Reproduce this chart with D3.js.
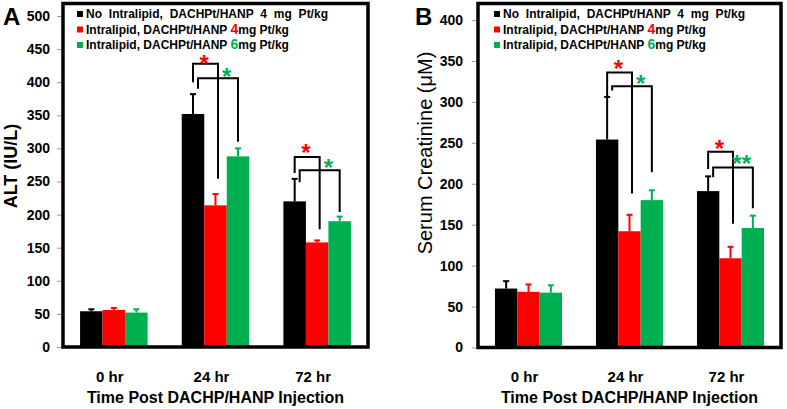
<!DOCTYPE html>
<html><head><meta charset="utf-8">
<script src="https://cdn.jsdelivr.net/npm/d3@7"></script>
<style>
body{margin:0;background:#fff}
svg{display:block;font-family:Arial,"Liberation Sans",sans-serif}
</style>
</head><body>
<svg id="c" width="787" height="409"></svg>
<script>
// ---------- data ----------
const groups = ["0 hr", "24 hr", "72 hr"];
const seriesColors = ["#000000", "#ff0000", "#00b050"];
const legendMain = ["No Intralipid, DACHPt/HANP 4 mg Pt/kg", "Intralipid, DACHPt/HANP ", "Intralipid, DACHPt/HANP "];
const legendDose = ["", "4", "6"];
const legendUnit = ["", "mg Pt/kg", "mg Pt/kg"];
const xTitle = "Time Post DACHP/HANP Injection";

// Panel A: ALT (IU/L)
const altTicks = [0, 50, 100, 150, 200, 250, 300, 350, 400, 450, 500];
const altNoIL   = [54, 352, 220];
const altNoILSD = [3, 30, 34];
const altIL4    = [56, 214, 158];
const altIL4SD  = [3, 17, 3];
const altIL6    = [52, 288, 190];
const altIL6SD  = [5, 12, 7];
// significance brackets: group, compared series, bracket top, leg ends, asterisk level
const altBrackets = [
  {group: 1, to: 1, top: 428, fromEnd: 400, toEnd: 254, star: 436, label: "*"},
  {group: 1, to: 2, top: 406, fromEnd: 390, toEnd: 310, star: 417, label: "*"},
  {group: 2, to: 1, top: 287, fromEnd: 263, toEnd: 178, star: 302, label: "*"},
  {group: 2, to: 2, top: 267, fromEnd: 249, toEnd: 204, star: 279, label: "*"}
];

// Panel B: Serum Creatinine (uM)
const creTicks = [0, 50, 100, 150, 200, 250, 300, 350, 400];
const creNoIL   = [72, 254, 191];
const creNoILSD = [9, 52, 18];
const creIL4    = [68, 142, 109];
const creIL4SD  = [9, 20, 14];
const creIL6    = [67, 180, 146];
const creIL6SD  = [9, 12, 15];
const creBrackets = [
  {group: 1, to: 1, top: 336, fromEnd: 306, toEnd: 188, star: 347, label: "*"},
  {group: 1, to: 2, top: 319, fromEnd: 314, toEnd: 214, star: 329, label: "*"},
  {group: 2, to: 1, top: 239, fromEnd: 218, toEnd: 151, star: 250, label: "*"},
  {group: 2, to: 2, top: 220, fromEnd: 208, toEnd: 170, star: 231, label: "**"}
];

// ---------- drawing ----------
const svg = d3.select("#c");
svg.append("rect").attr("width", 787).attr("height", 409).attr("fill", "#fff");

function panel(cfg) {
  const g = svg.append("g");
  const x = d3.scaleBand().domain(groups).range([cfg.x0, cfg.x1]).paddingInner(0.336).paddingOuter(0.168);
  const xs = d3.scaleBand().domain([0, 1, 2]).range([0, x.bandwidth()]);
  const y = d3.scaleLinear().domain([0, cfg.yMax]).range([cfg.yZero, cfg.yTopTick]);
  const cx = (gi, si) => x(groups[gi]) + xs(si) + xs.bandwidth() / 2;

  // y axis
  const ax = g.append("g").attr("transform", `translate(${cfg.x0},0)`)
    .call(d3.axisLeft(y).tickValues(cfg.ticks).tickSize(6).tickPadding(cfg.tickPad).tickFormat(d3.format("d")));
  ax.select(".domain").remove();
  ax.selectAll(".tick line").attr("stroke", "#9a9a9a").attr("stroke-width", 1);
  ax.selectAll(".tick text").attr("font-size", 14).attr("font-weight", "bold").attr("fill", "#000")
    .attr("font-family", "Arial, 'Liberation Sans', sans-serif");

  // bars
  const series = [cfg.s0, cfg.s1, cfg.s2];
  const sds = [cfg.e0, cfg.e1, cfg.e2];
  series.forEach((vals, si) => {
    vals.forEach((v, gi) => {
      g.append("rect")
        .attr("x", x(groups[gi]) + xs(si))
        .attr("y", y(v))
        .attr("width", xs.bandwidth())
        .attr("height", y(0) - y(v))
        .attr("fill", seriesColors[si]);
      const c = cx(gi, si), top = y(v + sds[si][gi]);
      g.append("line").attr("x1", c).attr("x2", c).attr("y1", y(v)).attr("y2", top)
        .attr("stroke", seriesColors[si]).attr("stroke-width", 2);
      g.append("line").attr("x1", c - 3).attr("x2", c + 3).attr("y1", top).attr("y2", top)
        .attr("stroke", seriesColors[si]).attr("stroke-width", 2);
    });
  });

  // brackets
  cfg.brackets.forEach(b => {
    const xl = cx(b.group, 0) + (b.to === 2 ? 5 : 0);
    const xr = cx(b.group, b.to) + (b.to === 1 ? 2.5 : 0);
    g.append("path")
      .attr("d", `M${xl},${y(b.fromEnd)}V${y(b.top)}H${xr}V${y(b.toEnd)}`)
      .attr("fill", "none").attr("stroke", "#000").attr("stroke-width", 2);
    const sx = (cx(b.group, b.to - 1) + cx(b.group, b.to)) / 2;
    g.append("text").attr("x", sx).attr("y", y(b.star) + 0.575 * 24)
      .attr("text-anchor", "middle").attr("font-size", 24).attr("font-weight", "bold")
      .attr("fill", seriesColors[b.to]).text(b.label);
  });

  // frame
  g.append("rect").attr("x", cfg.x0).attr("y", cfg.frameTop)
    .attr("width", cfg.x1 - cfg.x0).attr("height", y(0) - cfg.frameTop)
    .attr("fill", "none").attr("stroke", "#000").attr("stroke-width", 3.5);

  // legend
  legendMain.forEach((t, i) => {
    const cy = 14 + i * 15.5;
    g.append("rect").attr("x", cfg.lx).attr("y", cy - 3).attr("width", 6).attr("height", 6).attr("fill", seriesColors[i]);
    const tx = g.append("text").attr("x", cfg.lx + 9).attr("y", cy + 4)
      .attr("font-size", 12).attr("font-weight", "bold").attr("fill", "#000");
    if (i === 0) tx.attr("word-spacing", 3.5);
    tx.append("tspan").text(t);
    if (legendDose[i]) {
      tx.append("tspan").attr("font-size", 14).attr("fill", seriesColors[i]).text(legendDose[i]);
      tx.append("tspan").text(legendUnit[i]);
    }
  });

  // x labels
  groups.forEach(gr => {
    g.append("text").attr("x", x(gr) + x.bandwidth() / 2 - 4).attr("y", 382)
      .attr("text-anchor", "middle").attr("font-size", 15).attr("font-weight", "bold").text(gr);
  });
  g.append("text").attr("x", (cfg.x0 + cfg.x1) / 2).attr("y", 403)
    .attr("text-anchor", "middle").attr("font-size", 16).attr("font-weight", "bold").text(xTitle);

  // y title
  g.append("text").attr("transform", `translate(${cfg.ytx},${cfg.yty}) rotate(-90)`)
    .attr("text-anchor", "middle").attr("font-size", cfg.ytSize).attr("font-weight", cfg.ytWeight).text(cfg.yTitle);

  // panel letter
  g.append("text").attr("x", cfg.letterX).attr("y", 25).attr("font-size", 24).attr("font-weight", "bold").text(cfg.letter);
}

panel({
  x0: 63, x1: 368, yZero: 347, yTopTick: 16, yMax: 500, frameTop: 3.5, ticks: altTicks, tickPad: 7,
  s0: altNoIL, s1: altIL4, s2: altIL6, e0: altNoILSD, e1: altIL4SD, e2: altIL6SD,
  brackets: altBrackets, lx: 77, yTitle: "ALT (IU/L)", ytx: 17, yty: 166, ytSize: 18, ytWeight: "bold",
  letter: "A", letterX: 3
});
panel({
  x0: 478, x1: 781, yZero: 347.5, yTopTick: 20, yMax: 400, frameTop: 3.5, ticks: creTicks, tickPad: 9,
  s0: creNoIL, s1: creIL4, s2: creIL6, e0: creNoILSD, e1: creIL4SD, e2: creIL6SD,
  brackets: creBrackets, lx: 494, yTitle: "Serum Creatinine (\u03bcM)", ytx: 432, yty: 153, ytSize: 20, ytWeight: "normal",
  letter: "B", letterX: 415
});
</script>
</body></html>
